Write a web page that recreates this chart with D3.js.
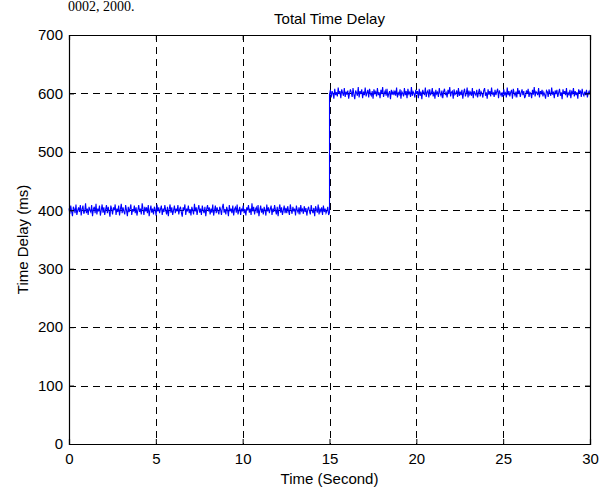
<!DOCTYPE html>
<html><head><meta charset="utf-8">
<script src="https://cdn.jsdelivr.net/npm/d3@7"></script>
<style>
html,body{margin:0;padding:0;background:#fff;}
svg{display:block;font-family:"Liberation Sans",Arial,Helvetica,sans-serif;}
</style></head>
<body><svg id="c" width="606" height="487"></svg>
<script>
// ---- data ----
const captionText = "0002, 2000.";
const chartTitle = "Total Time Delay";
const xLabel = "Time (Second)";
const yLabel = "Time Delay (ms)";
const xTicks = [0, 5, 10, 15, 20, 25, 30];
const yTicks = [0, 100, 200, 300, 400, 500, 600, 700];
const segmentStart = [0, 15];
const segmentEnd = [15, 30];
// delay samples for 0-15 s
const delayA = [
403,394,408,398,390,406,402,395,410,392,400,405,397,409,391,402,408,394,398,412,395,403,392,406,400,
397,409,390,402,406,395,411,393,403,398,408,391,400,410,396,405,392,401,409,395,406,398,389,408,402,
393,405,400,410,392,403,397,408,391,402,411,395,405,398,393,409,400,390,406,397,403,410,392,402,398,
408,395,405,391,400,409,397,403,393,412,402,392,406,398,405,395,409,390,400,408,396,403,393,406,401,
391,410,398,405,395,402,408,392,403,397,409,400,393,406,390,402,410,396,405,392,400,408,395,403,398,
409,393,402,406,396,389,405,400,410,392,403,398,408,395,402,391,406,400,393,411,398,405,392,402,409,
396,403,392,408,400,395,406,390,402,409,398,405,393,403,396,410,391,400,408,395,405,398,393,406,401,
392,405,411,396,402,393,406,400,390,409,398,403,395,408,391,402,405,396,410,393,400,406,392,403,398,
408,395,402,391,405,400,409,396,403,392,412,398,406,393,402,405,395,409,390,400,408,396,403,393,406,
400,391,410,398,405,395,402,408,392,403,397,409,400,393,406,390,402,410,396,405,392,400,408,395,404,
395,407,399,392,410,401,394,406,398,403,391,408,400,396,405,393,409,399,402,394,407,397,404,391,401,
406,398,393,409,400,395,404,390,407,401,396,410,393,402,398,405,392,408,397,403,395,399,406,392,396];
// delay samples for 15-30 s
const delayB = [
598,606,593,604,600,591,608,597,602,595,610,599,604,592,607,601,596,609,594,603,598,605,591,600,607,
602,594,609,598,590,605,601,596,611,593,604,599,607,592,603,597,610,595,601,606,593,608,599,596,604,
591,607,600,603,595,609,597,602,592,606,599,611,594,601,605,596,608,593,600,604,590,606,598,603,597,
605,596,610,593,601,598,607,591,603,600,595,609,597,604,592,608,599,602,594,611,596,603,600,593,606,
599,604,592,608,596,603,590,606,601,597,610,594,602,605,593,607,598,600,609,595,603,591,606,599,602,
594,609,600,596,605,592,603,608,597,601,593,606,599,611,595,602,604,591,607,598,600,605,594,609,596,
603,597,606,591,602,608,595,600,610,593,605,598,602,596,609,592,604,600,597,606,593,601,608,595,603,
600,593,605,609,596,602,591,607,598,604,595,610,599,601,594,606,597,603,608,592,605,600,596,602,594,
607,598,601,593,610,597,604,595,602,606,591,608,600,596,603,593,609,599,605,594,601,607,597,604,592,
596,605,599,608,594,602,600,592,606,598,611,595,603,601,597,609,593,604,600,606,595,602,598,591,605,
603,594,607,600,596,610,598,603,592,605,599,606,594,601,608,596,602,590,607,599,604,597,609,593,601,
598,606,592,603,600,609,595,604,597,602,591,607,600,605,594,608,599,596,603,597,606,593,601,604,599];

// ---- layout ----
const L = 69, R = 590, T = 35, B = 444;
const svg = d3.select("#c");
const x = d3.scaleLinear().domain([0, 30]).range([L, R]);
const y = d3.scaleLinear().domain([0, 700]).range([B, T]);
const FONT = "'Liberation Sans',Arial,Helvetica,sans-serif";

// caption text at very top
svg.append("text").attr("x", 68).attr("y", 11)
  .attr("font-family", "'Liberation Serif','Times New Roman',serif")
  .attr("font-size", 14).attr("fill", "#000").text(captionText);

// grid
const g = svg.append("g");
g.selectAll(".gx").data(xTicks.slice(1, -1)).enter().append("line")
  .attr("x1", d => Math.round(x(d)) + 0.5).attr("x2", d => Math.round(x(d)) + 0.5).attr("y1", T).attr("y2", B)
  .attr("stroke", "#000").attr("stroke-width", 1).attr("stroke-dasharray", "7,5");
g.selectAll(".gy").data(yTicks.slice(1, -1)).enter().append("line")
  .attr("y1", d => Math.round(y(d)) + 0.5).attr("y2", d => Math.round(y(d)) + 0.5).attr("x1", L).attr("x2", R)
  .attr("stroke", "#000").attr("stroke-width", 1).attr("stroke-dasharray", "7,5");

// data line
const pts = [];
[delayA, delayB].forEach((arr, k) => {
  const tt = d3.scaleLinear().domain([0, arr.length - 1]).range([segmentStart[k], segmentEnd[k]]);
  arr.forEach((v, i) => pts.push([tt(i), v]));
});
svg.append("path").datum(pts)
  .attr("d", d3.line().x(d => x(d[0])).y(d => y(d[1])))
  .attr("fill", "none").attr("stroke", "#0000ff").attr("stroke-width", 1.1);

// axes (ticks inward)
const fs = 15;
const axB = d3.axisBottom(x).tickValues(xTicks).tickSize(-5).tickPadding(9).tickFormat(d3.format("d"));
const axL = d3.axisLeft(y).tickValues(yTicks).tickSize(-5).tickPadding(6).tickFormat(d3.format("d"));
const axT = d3.axisTop(x).tickValues(xTicks).tickSize(-5).tickFormat("");
const axR = d3.axisRight(y).tickValues(yTicks).tickSize(-5).tickFormat("");
function style(sel){
  sel.selectAll("path").attr("stroke","#000").attr("stroke-width",1.2);
  sel.selectAll("line").attr("stroke","#000");
  sel.selectAll("text").attr("font-size", fs).attr("fill","#000").attr("font-family", FONT);
}
svg.append("g").attr("transform", `translate(0,${B})`).call(axB).call(style);
svg.append("g").attr("transform", `translate(${L},0)`).call(axL).call(style);
svg.append("g").attr("transform", `translate(0,${T})`).call(axT).call(style);
svg.append("g").attr("transform", `translate(${R},0)`).call(axR).call(style);

// labels
svg.append("text").attr("x", (L + R) / 2).attr("y", 24).attr("text-anchor", "middle")
  .attr("font-family", FONT).attr("font-size", 15).text(chartTitle);
svg.append("text").attr("x", (L + R) / 2).attr("y", 484).attr("text-anchor", "middle")
  .attr("font-family", FONT).attr("font-size", 15).text(xLabel);
svg.append("text").attr("transform", `translate(28,${(T + B) / 2}) rotate(-90)`).attr("text-anchor", "middle")
  .attr("font-family", FONT).attr("font-size", 15).text(yLabel);
</script></body></html>
